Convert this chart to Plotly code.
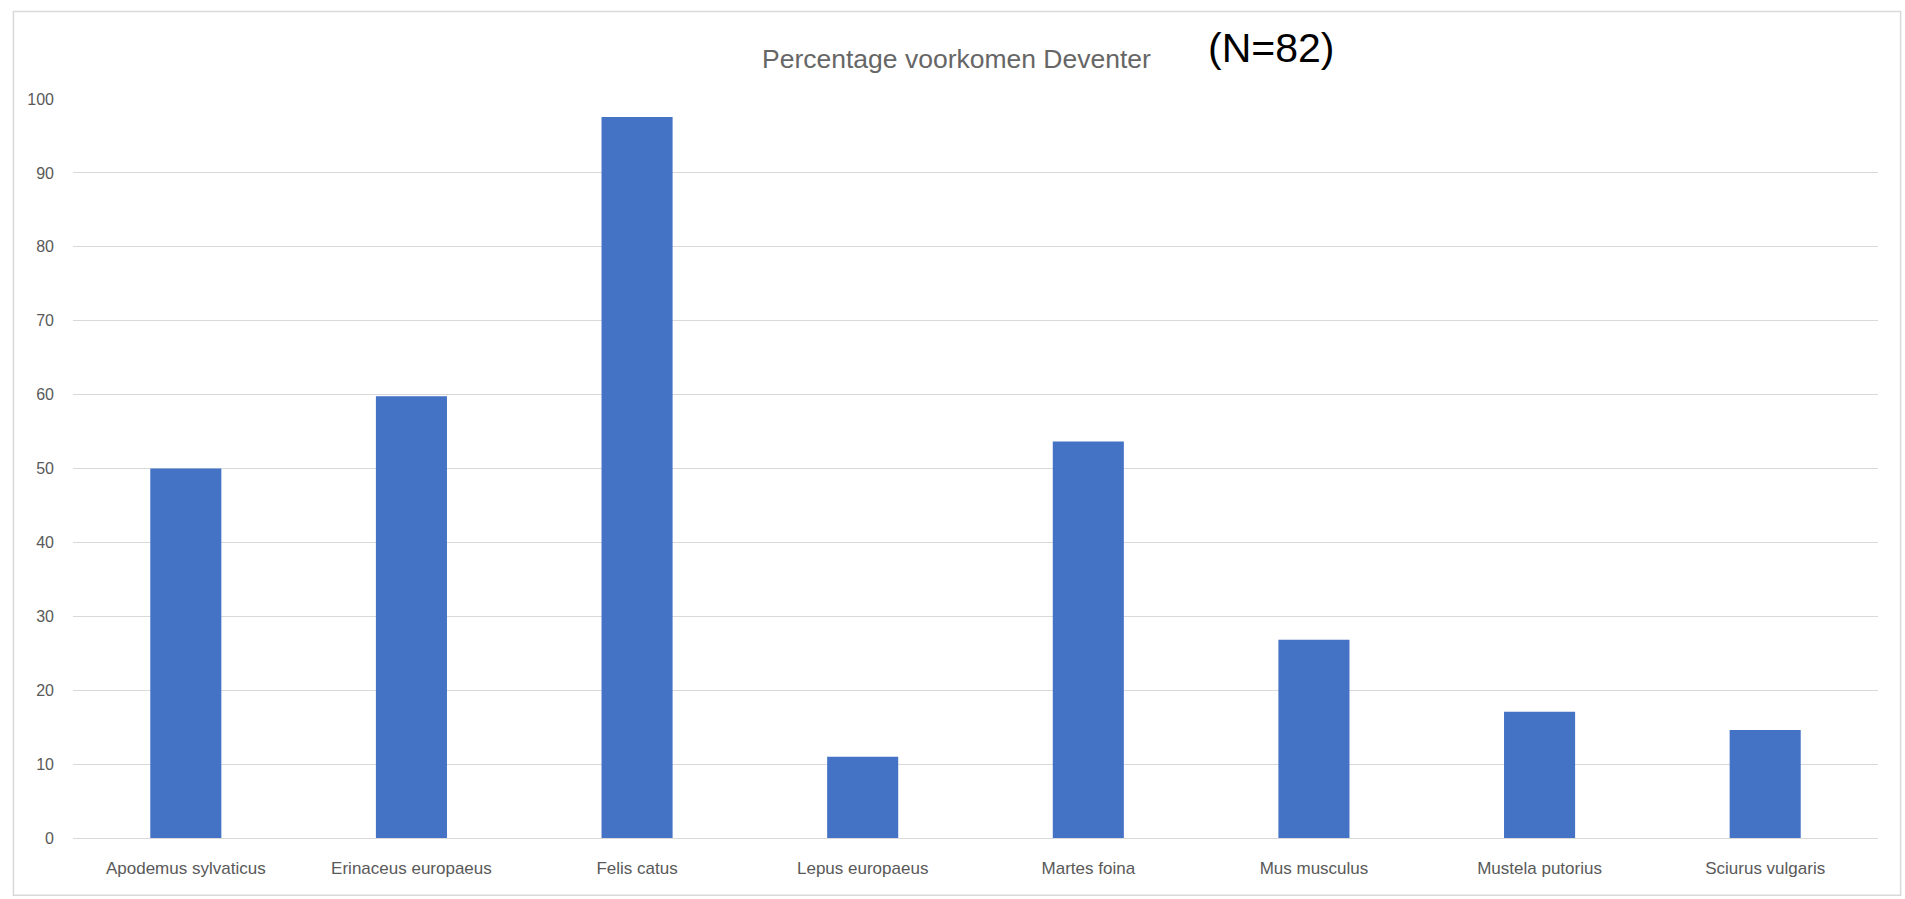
import plotly.graph_objects as go

categories = ["Apodemus sylvaticus", "Erinaceus europaeus", "Felis catus", "Lepus europaeus",
              "Martes foina", "Mus musculus", "Mustela putorius", "Sciurus vulgaris"]
percentages = [50.0, 59.76, 97.56, 10.98, 53.66, 26.83, 17.07, 14.63]
y_ticks = [0, 10, 20, 30, 40, 50, 60, 70, 80, 90, 100]

FONT = "Liberation Sans Narrow, Arial Narrow, Liberation Sans, sans-serif"
W, H = 1905, 899
L, R, T, B = 72.6, 26.6, 98.5, 61.3
pw, ph = W - L - R, H - T - B

def px_x(px):
    return (px - L) / pw

def px_y(py):
    return (H - B - py) / ph

fig = go.Figure(go.Bar(x=categories, y=percentages, marker=dict(color="#4472C4", line=dict(width=0))))

fig.update_layout(
    width=W, height=H,
    margin=dict(l=L, r=R, t=T, b=B, pad=0),
    paper_bgcolor="white", plot_bgcolor="white",
    bargap=0.685,
    showlegend=False,
    font=dict(family=FONT, color="#595959"),
    xaxis=dict(showgrid=False, showline=True, linecolor="#d9d9d9", linewidth=1,
               tickfont=dict(size=17, color="#595959", family=FONT), ticks="",
               ticklabelstandoff=15),
    yaxis=dict(range=[0, 100], tickvals=y_ticks, showgrid=True, gridcolor="#d9d9d9", gridwidth=1,
               zeroline=False, showline=False, ticks="",
               tickfont=dict(size=16, color="#595959", family=FONT), ticklabelstandoff=18),
    annotations=[
        dict(text="Percentage voorkomen Deventer", x=px_x(956), y=px_y(58), xref="paper", yref="paper",
             showarrow=False, xanchor="center", yanchor="middle",
             font=dict(size=26.5, color="#666666", family=FONT)),
        dict(text="(N=82)", x=px_x(1271.5), y=px_y(47), xref="paper", yref="paper",
             showarrow=False, xanchor="center", yanchor="middle",
             font=dict(size=41, color="black", family=FONT)),
    ],
    shapes=[
        dict(type="rect", xref="paper", yref="paper",
             x0=px_x(13), x1=px_x(1901), y0=px_y(895), y1=px_y(11),
             line=dict(color="#d9d9d9", width=1.5), fillcolor="rgba(0,0,0,0)", layer="below"),
    ],
)

fig.write_html("out.html", config={"displayModeBar": False},
               post_script="document.body.style.margin='0';document.body.style.overflow='hidden';")
